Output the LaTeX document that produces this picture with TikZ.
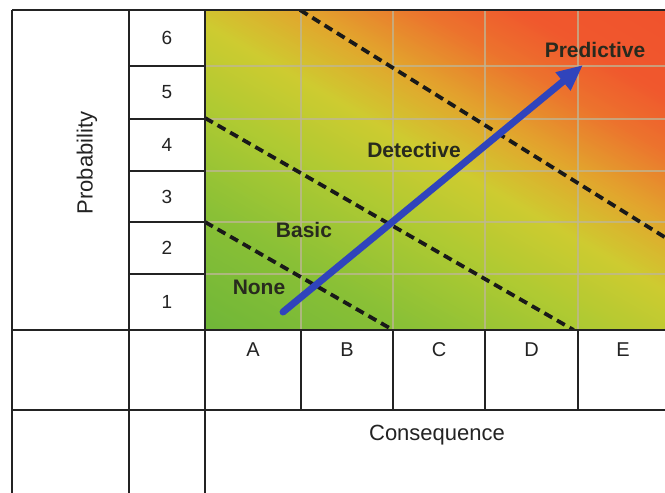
\documentclass[tikz,border=0pt]{standalone}
\usepackage{fontspec}
\setmainfont{Liberation Sans}
\usetikzlibrary{arrows.meta}
\definecolor{g0}{RGB}{110,182,56}
\definecolor{g1}{RGB}{138,192,54}
\definecolor{g2}{RGB}{175,202,50}
\definecolor{g3}{RGB}{206,203,48}
\definecolor{g4}{RGB}{226,165,45}
\definecolor{g5}{RGB}{236,115,45}
\definecolor{g6}{RGB}{240,88,45}
\definecolor{g7}{RGB}{240,82,45}
\definecolor{arrowblue}{RGB}{48,68,188}
\definecolor{ink}{RGB}{35,35,35}
\definecolor{lbl}{RGB}{40,42,30}
\definecolor{gridtan}{RGB}{190,182,150}
\begin{document}
\begin{tikzpicture}[x=1pt,y=-1pt,
  frame/.style={draw=ink, line width=1.8pt},
  cellnum/.style={font=\fontsize{19}{19}\selectfont, text=ink, inner sep=0pt},
  colletter/.style={font=\fontsize{20}{20}\selectfont, text=ink, inner sep=0pt},
  zonelbl/.style={font=\bfseries\fontsize{21}{21}\selectfont, text=lbl, inner sep=0pt},
  zoneline/.style={draw=black!90, line width=3.8pt, dash pattern=on 9pt off 5.5pt},
  gridline/.style={draw=gridtan, draw opacity=0.75, line width=1.8pt},
  riskarrow/.style={draw=arrowblue, line width=7pt, line cap=round, -{Triangle[length=26pt,width=22pt]}},
]
\useasboundingbox[fill=white] (0,0) rectangle (665,493);

% colour field
\begin{scope}
  \clip (205,10) rectangle (665,330);
  \foreach \ta/\tb/\ca/\cb in {-190/-80/g0/g1, -80/10/g1/g2, 10/80/g2/g3, 80/140/g3/g4, 140/200/g4/g5, 200/250/g5/g6, 250/330/g6/g7}{
    \pgfmathtruncatemacro\nn{(\tb-\ta)/2}
    \foreach \k in {0,...,\nn}{
      \pgfmathsetmacro\tv{\ta+2*\k}
      \pgfmathsetmacro\tw{\tv+2.8}
      \pgfmathtruncatemacro\pc{100*\k/\nn}
      \fill[\cb!\pc!\ca]
        ({0.5*\tv+0.866*160},{-0.866*\tv+0.5*160}) --
        ({0.5*\tv+0.866*760},{-0.866*\tv+0.5*760}) --
        ({0.5*\tw+0.866*760},{-0.866*\tw+0.5*760}) --
        ({0.5*\tw+0.866*160},{-0.866*\tw+0.5*160}) -- cycle;
    }
  }
  % light grid
  \foreach \gx in {301,393,485,578}{ \draw[gridline] (\gx,10) -- (\gx,330); }
  \foreach \gy in {66,119,171,222,274}{ \draw[gridline] (205,\gy) -- (665,\gy); }
  % zone boundaries
  \coordinate (d1a) at (300,10);
  \coordinate (d1b) at (720,271.6);
  \coordinate (d2a) at (205,118);
  \coordinate (d2b) at (573.7,330);
  \coordinate (d3a) at (205,222);
  \coordinate (d3b) at (393,330);
  \draw[zoneline] (d1a) -- (d1b);
  \draw[zoneline] (d2a) -- (d2b);
  \draw[zoneline] (d3a) -- (d3b);
\end{scope}

% arrow
\coordinate (ars) at (283,312);
\coordinate (are) at (583,65);
\draw[riskarrow] (ars) -- (are);

% zone labels
\node[zonelbl] (lpred) at (595,50) {Predictive};
\node[zonelbl] (ldet) at (414,150) {Detective};
\node[zonelbl] (lbas) at (304,230) {Basic};
\node[zonelbl] (lnone) at (259,287) {None};

% table frame
\draw[frame] (12,10) -- (665,10);
\draw[frame] (12,330) -- (665,330);
\draw[frame] (12,410) -- (665,410);
\draw[frame] (12,10) -- (12,493);
\draw[frame] (129,10) -- (129,493);
\draw[frame] (205,10) -- (205,493);
\foreach \ry in {66,119,171,222,274}{ \draw[frame] (129,\ry) -- (205,\ry); }
\foreach \cx in {301,393,485,578}{ \draw[frame] (\cx,330) -- (\cx,410); }

% probability labels
\node[cellnum] (p6) at (167,38) {6};
\node[cellnum] (p5) at (167,92.5) {5};
\node[cellnum] (p4) at (167,145) {4};
\node[cellnum] (p3) at (167,196.5) {3};
\node[cellnum] (p2) at (167,248) {2};
\node[cellnum] (p1) at (167,302) {1};
\node[rotate=90, font=\fontsize{22}{22}\selectfont, text=ink, inner sep=0pt] (prob) at (87,163) {Probability};

% consequence labels
\node[colletter] (cA) at (253,350) {A};
\node[colletter] (cB) at (347,350) {B};
\node[colletter] (cC) at (439,350) {C};
\node[colletter] (cD) at (531.5,350) {D};
\node[colletter] (cE) at (623,350) {E};
\node[font=\fontsize{22}{22}\selectfont, text=ink, inner sep=0pt] (cons) at (437,435) {Consequence};
\end{tikzpicture}
\end{document}
